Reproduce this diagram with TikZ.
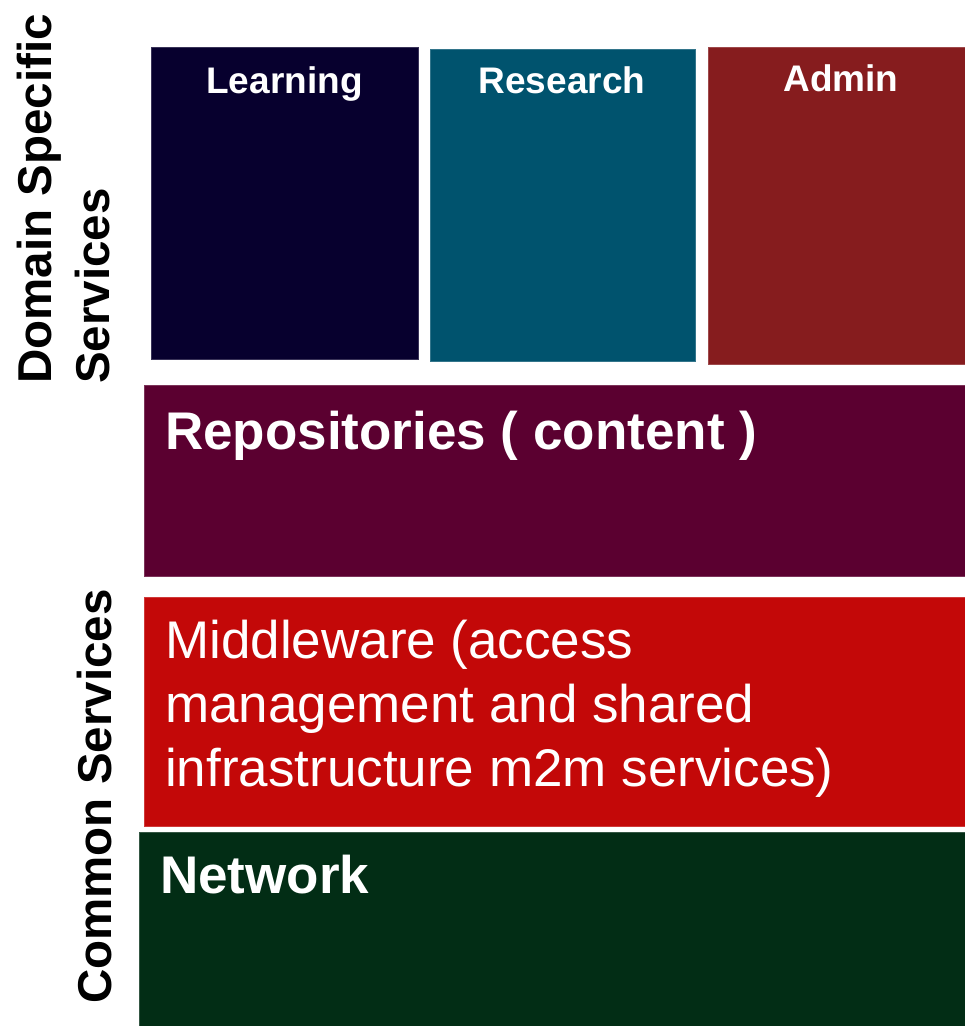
\documentclass[tikz,border=0pt]{standalone}
\usepackage{fontspec}
\setmainfont{Liberation Sans}
\definecolor{learncol}{RGB}{7,0,46}
\definecolor{rescol}{RGB}{0,83,110}
\definecolor{admincol}{RGB}{134,28,30}
\definecolor{repocol}{RGB}{91,0,48}
\definecolor{midcol}{RGB}{195,8,8}
\definecolor{netcol}{RGB}{2,45,21}
\tikzset{
  layer/.style={draw=#1!80!white, line width=0.6pt, fill=#1, anchor=north west, inner sep=0pt, outer sep=0pt},
  toptext/.style={text=white, font=\fontsize{37}{44}\selectfont\bfseries, inner sep=0pt, anchor=base},
  bigbold/.style={text=white, font=\fontsize{53}{64}\selectfont\bfseries, inner sep=0pt, anchor=base west},
  bigreg/.style={text=white, font=\fontsize{53}{64}\selectfont, inner sep=0pt, anchor=base west, align=left},
  sidetext/.style={text=black, font=\fontsize{47.5}{57}\selectfont\bfseries, inner sep=0pt, anchor=base west, rotate=90}
}
\begin{document}
\begin{tikzpicture}[x=1pt,y=-1pt]
\useasboundingbox (0,0) rectangle (965,1026);
\clip (0,0) rectangle (965,1026);
% boxes
\node[layer=learncol, minimum width=267pt, minimum height=312pt] (learn) at (151,47) {};
\node[layer=rescol, minimum width=265pt, minimum height=312pt] (res) at (430,49) {};
\node[layer=admincol, minimum width=266pt, minimum height=317pt] (admin) at (708,47) {};
\node[layer=repocol, minimum width=830pt, minimum height=191pt] (repo) at (144,385) {};
\node[layer=midcol, minimum width=830pt, minimum height=229pt] (mid) at (144,597) {};
\node[layer=netcol, minimum width=835pt, minimum height=200pt] (net) at (139,832) {};
% labels in boxes
\node[toptext] (learnT) at (284.5,93) {Learning};
\node[toptext] (resT) at (562,93) {Research};
\node[toptext] (adminT) at (841,91) {Admin};
\node[bigbold] (repoT) at (165,449) {Repositories ( content )};
\node[bigreg] (midT) at (165,786) {Middleware (access\\management and shared\\infrastructure m2m services)};
\node[bigbold] (netT) at (160,893) {Network};
% side labels
\node[sidetext] (dss1) at (51,384) {Domain Specific};
\node[sidetext] (dss2) at (109,384) {Services};
\node[sidetext] (cs) at (111,1004) {Common Services};
\end{tikzpicture}
\end{document}
